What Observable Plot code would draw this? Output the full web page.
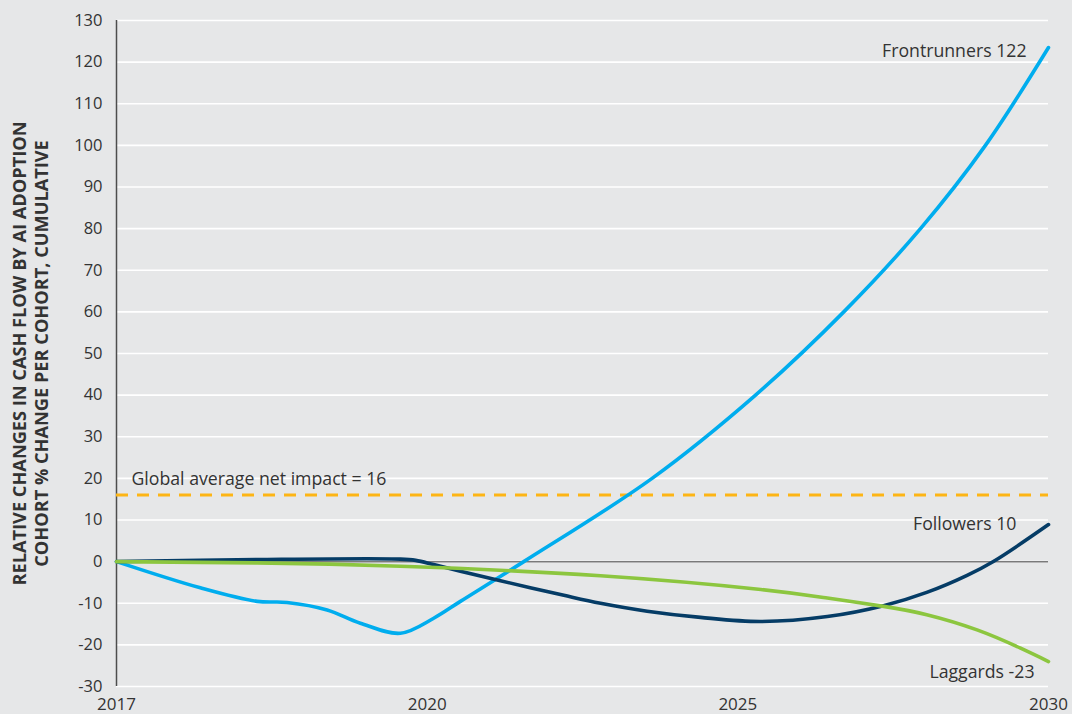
<!DOCTYPE html>
<html>
<head>
<meta charset="utf-8">
<script src="https://cdn.jsdelivr.net/npm/d3@7"></script>
<script src="https://cdn.jsdelivr.net/npm/@observablehq/plot@0.6"></script>
<style>
  html, body { margin: 0; padding: 0; background: #e6e7e8; }
  #chart svg { display: block; }
</style>
</head>
<body>
<div id="chart"></div>
<script>
// x positions are equally spaced tick slots: 0=2017, 1=2020, 2=2025, 3=2030
const xTicks = [0, 1, 2, 3];
const xTickLabels = ["2017", "2020", "2025", "2030"];
const yTicks = d3.range(-30, 131, 10);

const frontrunnersX = [0, 0.27, 0.453, 0.549, 0.678, 0.785, 0.914, 1.021, 1.107, 1.311, 1.724, 2.057, 2.341, 2.588, 2.797, 3.0];
const frontrunnersY = [0, -6.3, -9.55, -9.8, -11.6, -14.8, -17.2, -13.6, -9.55, 0, 20, 40, 60, 80, 100, 123.5];

const followersX = [0, 0.453, 0.914, 0.963, 1.021, 1.107, 1.236, 1.44, 1.558, 1.708, 1.88, 2.073, 2.288, 2.469, 2.608, 2.738, 2.824, 3.0];
const followersY = [0, 0.5, 0.6, 0.3, -0.7, -2.3, -4.6, -8.1, -10.0, -11.9, -13.4, -14.4, -13.2, -10.6, -7.4, -3.3, 0.1, 8.9];

const laggardsX = [0, 0.453, 0.914, 1.558, 2.074, 2.288, 2.469, 2.608, 2.77, 2.91, 3.0];
const laggardsY = [0, -0.3, -1.1, -3.4, -6.7, -8.75, -10.75, -12.75, -16.4, -20.8, -24.0];

const seriesNames = ["Frontrunners", "Followers", "Laggards"];
const seriesEndLabels = ["Frontrunners 122", "Followers 10", "Laggards -23"];
const seriesColors = ["#00adee", "#053c66", "#8cc63f"];
const seriesCurves = ["catmull-rom", "catmull-rom", "natural"];

const globalAverage = 16;
const globalLabel = "Global average net impact = 16";
const yTitle = ["RELATIVE CHANGES IN CASH FLOW BY AI ADOPTION", "COHORT % CHANGE PER COHORT, CUMULATIVE"];

const toRows = (name, xs, ys) => xs.map((x, i) => ({series: name, x, y: ys[i]}));
const rows = [
  ...toRows(seriesNames[0], frontrunnersX, frontrunnersY),
  ...toRows(seriesNames[1], followersX, followersY),
  ...toRows(seriesNames[2], laggardsX, laggardsY)
];
const ends = [
  {series: seriesNames[0], x: frontrunnersX.at(-1), y: frontrunnersY.at(-1), label: seriesEndLabels[0], dx: -22, dy: 4},
  {series: seriesNames[1], x: followersX.at(-1), y: followersY.at(-1), label: seriesEndLabels[1], dx: -32, dy: 0},
  {series: seriesNames[2], x: laggardsX.at(-1), y: laggardsY.at(-1), label: seriesEndLabels[2], dx: -14, dy: 11}
];

const font = "'Open Sans', Lato, sans-serif";
const labelSize = 17.7;

const chart = Plot.plot({
  width: 1072,
  height: 714,
  marginLeft: 116,
  marginRight: 24,
  marginTop: 20,
  marginBottom: 28,
  style: {background: "#e6e7e8", fontFamily: font, fontSize: "16px", color: "#333"},
  x: {domain: [0, 3], axis: null},
  y: {domain: [-30, 130], axis: null},
  color: {domain: seriesNames, range: seriesColors},
  marks: [
    Plot.gridY(yTicks, {stroke: "#ffffff", strokeOpacity: 1, strokeWidth: 1.6}),
    Plot.ruleY([0], {stroke: "#7a7a7a", strokeWidth: 1.5}),
    Plot.ruleX([0], {stroke: "#4d4d4d", strokeWidth: 1.5}),
    Plot.axisY(yTicks, {tickSize: 0, tickPadding: 14, fontSize: 16.5, fill: "#333", label: null, tickFormat: (d) => String(d)}),
    Plot.axisX(xTicks, {tickSize: 0, tickPadding: 11, fontSize: 17, fill: "#333", label: null, tickFormat: (d) => xTickLabels[d]}),
    Plot.ruleY([globalAverage], {stroke: "#fdb515", strokeWidth: 3, strokeDasharray: "12,9"}),
    Plot.text([globalLabel], {x: 0, y: globalAverage, dx: 15, dy: -16, textAnchor: "start", fill: "#333", fontSize: labelSize}),
    ...seriesNames.map((name, i) =>
      Plot.line(rows.filter((r) => r.series === name), {x: "x", y: "y", stroke: "series", strokeWidth: 3.6, curve: seriesCurves[i]})
    ),
    ...ends.map((e) =>
      Plot.text([e], {x: "x", y: "y", text: "label", textAnchor: "end", dx: e.dx, dy: e.dy, fill: "#333", fontSize: labelSize})
    ),
    Plot.text([yTitle.join("\n")], {frameAnchor: "left", rotate: -90, dx: -87, textAnchor: "middle", lineAnchor: "middle", lineHeight: 1.22, fontWeight: "bold", fontSize: 18.2, fill: "#333"})
  ]
});

document.getElementById("chart").appendChild(chart);
</script>
</body>
</html>
